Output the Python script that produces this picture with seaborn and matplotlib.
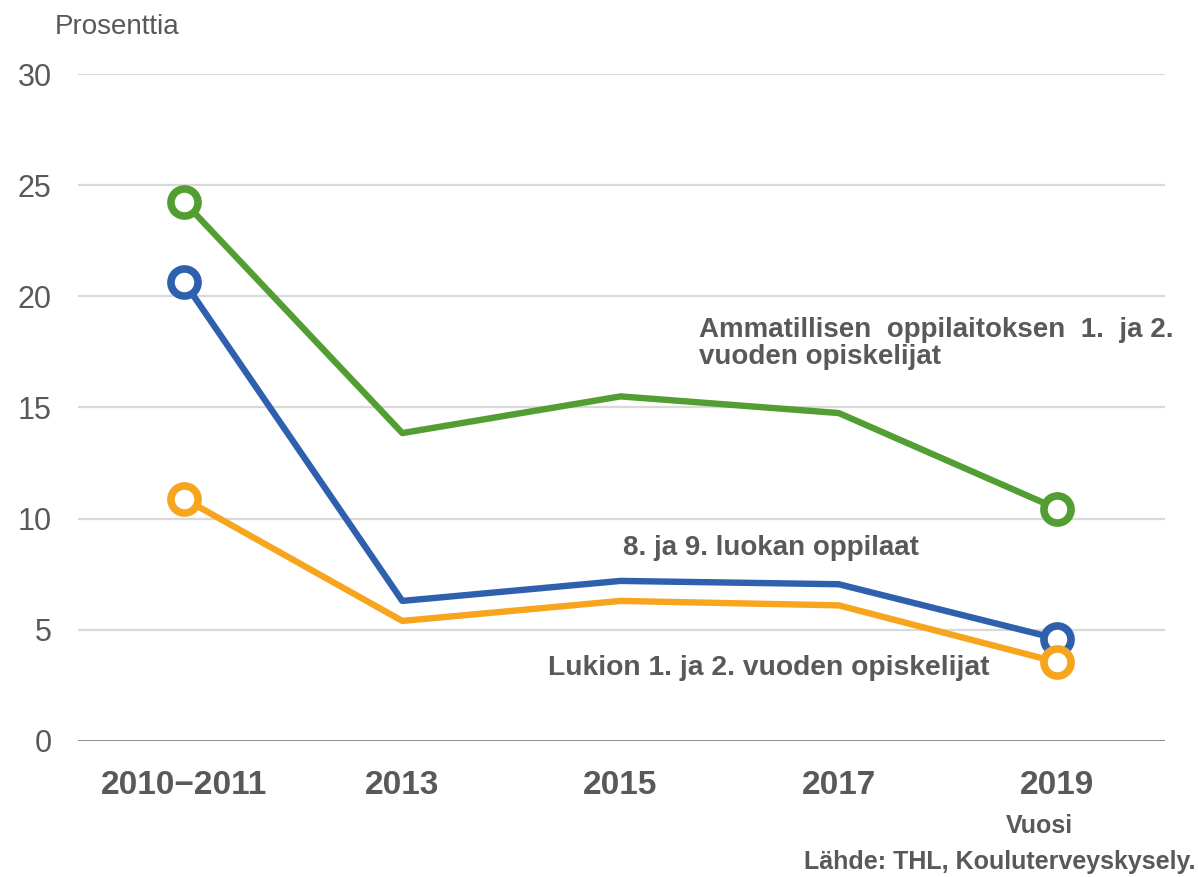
import pandas as pd
import matplotlib.pyplot as plt
import seaborn as sns

# Data
vuodet = ['2010\u22122011', '2013', '2015', '2017', '2019']
ammatillinen = [24.25, 13.85, 15.5, 14.75, 10.45]
peruskoulu = [20.65, 6.3, 7.2, 7.05, 4.6]
lukio = [10.9, 5.4, 6.3, 6.1, 3.55]

sarjat = ['8. ja 9. luokan oppilaat', 'Lukion 1. ja 2. vuoden opiskelijat',
          'Ammatillisen oppilaitoksen 1. ja 2. vuoden opiskelijat']
varit = ['#2F60AE', '#F8A51E', '#529E33']

df = pd.DataFrame({
    'x': list(range(len(vuodet))) * 3,
    'arvo': peruskoulu + lukio + ammatillinen,
    'sarja': [s for s in sarjat for _ in vuodet],
})

sns.set_theme(style='white')
plt.rcParams['font.family'] = ['Liberation Sans', 'DejaVu Sans']
harmaa = '#595959'

fig = plt.figure(figsize=(11.98, 8.77), dpi=100)
ax = fig.add_axes([0.0651, 0.1551, 0.9074, 0.7605])

for sarja, vari in zip(sarjat, varit):
    sns.lineplot(data=df[df['sarja'] == sarja], x='x', y='arvo', ax=ax,
                 color=vari, linewidth=4.6, marker='o', markevery=[0, 4],
                 markersize=19.5, markerfacecolor='white', markeredgecolor=vari,
                 markeredgewidth=5.5, legend=False, clip_on=False, zorder=3)

ax.set_xlim(-0.486, 4.495)
ax.set_ylim(0, 30)
ax.set_yticks([0, 5, 10, 15, 20, 25, 30])
ax.set_xticks(range(len(vuodet)))
ax.set_xticklabels(vuodet, fontsize=24, fontweight='bold', color=harmaa)
ax.tick_params(axis='y', labelsize=22, labelcolor=harmaa, pad=19, length=0)
ax.tick_params(axis='x', pad=21, length=0)
ax.set_xlabel('')
ax.set_ylabel('')

for y in [5, 10, 15, 20, 25, 30]:
    ax.axhline(y, color='#D9D9D9', linewidth=1.6, zorder=1)
ax.axhline(0, color='#808080', linewidth=2, zorder=2)
for s in ax.spines.values():
    s.set_visible(False)

# Series labels
ax.text(2.69, 8.68, '8. ja 9. luokan oppilaat', ha='center', va='center',
        fontsize=20, fontweight='bold', color=harmaa)
ax.text(2.68, 3.28, 'Lukion 1. ja 2. vuoden opiskelijat', ha='center', va='center',
        fontsize=20.3, fontweight='bold', color=harmaa)
ax.text(2.36, 18.49, 'Ammatillisen  oppilaitoksen  1.  ja 2.', ha='left', va='center',
        fontsize=20, fontweight='bold', color=harmaa)
ax.text(2.36, 17.27, 'vuoden opiskelijat', ha='left', va='center',
        fontsize=20, fontweight='bold', color=harmaa)

fig.text(55 / 1198, 1 - 27 / 877, 'Prosenttia', ha='left', va='center',
         fontsize=20, color=harmaa)
fig.text(1039 / 1198, 1 - 826 / 877, 'Vuosi', ha='center', va='center',
         fontsize=18, fontweight='bold', color=harmaa)
fig.text(1195 / 1198, 1 - 862 / 877, 'Lähde: THL, Kouluterveyskysely.', ha='right',
         va='center', fontsize=18, fontweight='bold', color=harmaa)

fig.savefig('out.png', dpi=100, facecolor='white')
